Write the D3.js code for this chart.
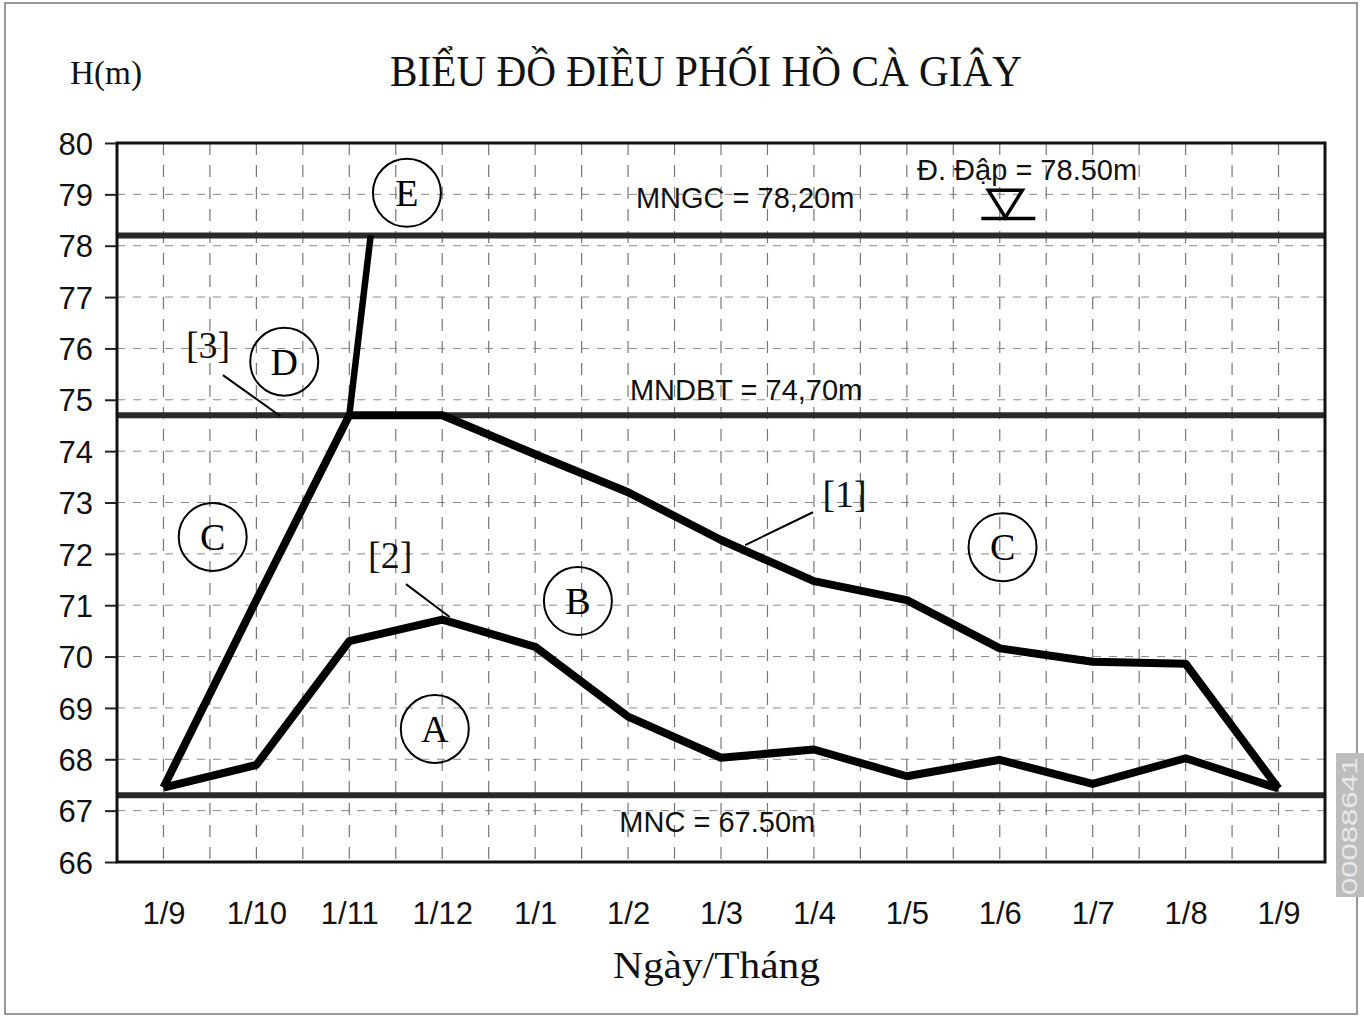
<!DOCTYPE html>
<html>
<head>
<meta charset="utf-8">
<script src="https://cdn.jsdelivr.net/npm/d3@7"></script>
<style>
  html, body { margin: 0; padding: 0; background: #fff; }
  svg { display: block; }
</style>
</head>
<body>
<svg id="chart" width="1364" height="1023"></svg>
<script>
// ---- data ----
const months = ["1/9","1/10","1/11","1/12","1/1","1/2","1/3","1/4","1/5","1/6","1/7","1/8","1/9"];
const yTicks = [66,67,68,69,70,71,72,73,74,75,76,77,78,79,80];
// upper dispatch curve (C / [1])
const upperLine = [67.45, 71.1, 74.7, 74.7, 73.94, 73.2, 72.27, 71.47, 71.1, 70.16, 69.9, 69.86, 67.43];
// lower dispatch curve ([2])
const lowerLine = [67.45, 67.89, 70.3, 70.72, 70.19, 68.83, 68.03, 68.19, 67.67, 67.99, 67.52, 68.02, 67.43];
// steep line from MNDBT to MNGC (E / [3]) : month index, level
const steepIdx = [2, 2.23];
const steepLevel = [74.7, 78.2];
// reference levels (drawn positions)
const refLevels = [78.2, 74.7, 67.3];
const refLabels = ["MNGC = 78,20m", "MNDBT = 74,70m", "MNC = 67.50m"];
const damLevel = 78.5;
const damLabel = "Đ. Đập = 78.50m";
// zone labels: letter, month index, level
const zoneLetters = ["E","D","C","B","A","C"];
const zoneIdx = [2.62, 1.30, 0.53, 4.46, 2.92, 9.03];
const zoneLevel = [79.03, 75.74, 72.33, 71.08, 68.59, 72.13];
const curveTags = ["[3]","[2]","[1]"];

// ---- layout ----
const svg = d3.select("#chart");
const L = 117, R = 1325, T = 143, B = 862;
const x = d3.scaleLinear().domain([-0.5, 12.5]).range([L, R]);
const y = d3.scaleLinear().domain([66, 80]).range([B, T]);

// outer frame
svg.append("rect").attr("x", 5).attr("y", 3).attr("width", 1352).attr("height", 1011)
  .attr("fill", "none").attr("stroke", "#777").attr("stroke-width", 1.5);

// grid
const gridG = svg.append("g");
gridG.selectAll("line.h").data(yTicks.filter(v => v > 66 && v < 80)).enter().append("line")
  .attr("x1", L).attr("x2", R).attr("y1", d => y(d)).attr("y2", d => y(d))
  .attr("stroke", "#8a8a8a").attr("stroke-width", 1).attr("stroke-dasharray", "8,8");
const halfSteps = d3.range(0, 12.01, 0.5);
gridG.selectAll("line.v").data(halfSteps).enter().append("line")
  .attr("x1", d => x(d)).attr("x2", d => x(d)).attr("y1", T).attr("y2", B)
  .attr("stroke", "#777").attr("stroke-width", 1.2).attr("stroke-dasharray", "12,10");

// y axis
const yAxis = d3.axisLeft(y).tickValues(yTicks).tickSize(12).tickPadding(12).tickFormat(d3.format("d"));
const ya = svg.append("g").attr("transform", `translate(${L},0)`).call(yAxis);
ya.select(".domain").remove();
ya.selectAll(".tick line").attr("stroke", "#222").attr("stroke-width", 2);
ya.selectAll(".tick text").attr("font-family", "Liberation Sans, Arial, sans-serif")
  .attr("font-size", 31).attr("fill", "#111").attr("dy", "0.36em");

// x axis labels
const xAxis = d3.axisBottom(x).tickValues(d3.range(0, 13)).tickSize(0).tickPadding(40)
  .tickFormat(i => months[i]);
const xa = svg.append("g").attr("transform", `translate(0,${B})`).call(xAxis);
xa.select(".domain").remove();
xa.selectAll(".tick text").attr("font-family", "Liberation Sans, Arial, sans-serif")
  .attr("font-size", 31).attr("fill", "#111");

// reference lines
svg.selectAll("line.ref").data(refLevels).enter().append("line")
  .attr("x1", L).attr("x2", R).attr("y1", d => y(d)).attr("y2", d => y(d))
  .attr("stroke", "#2a2a2a").attr("stroke-width", 6);

// plot border
svg.append("rect").attr("x", L).attr("y", T).attr("width", R - L).attr("height", B - T)
  .attr("fill", "none").attr("stroke", "#111").attr("stroke-width", 3);

// curves
const line = d3.line().x((d, i) => x(i)).y(d => y(d));
svg.append("path").datum(upperLine).attr("d", line)
  .attr("fill", "none").attr("stroke", "#000").attr("stroke-width", 8).attr("stroke-linejoin", "round");
svg.append("path").datum(lowerLine).attr("d", line)
  .attr("fill", "none").attr("stroke", "#000").attr("stroke-width", 8).attr("stroke-linejoin", "round");
const steepPts = steepIdx.map((v, i) => [v, steepLevel[i]]);
svg.append("path").datum(steepPts).attr("d", d3.line().x(d => x(d[0])).y(d => y(d[1])))
  .attr("fill", "none").attr("stroke", "#000").attr("stroke-width", 6.5).attr("stroke-linecap", "butt");

// reference labels
const refLabelIdx = [6.26, 6.27, 5.96];
const refLabelLevel = [78.73, 75.0, 66.58];
svg.selectAll("text.ref").data(refLabels).enter().append("text")
  .attr("x", (d, i) => x(refLabelIdx[i])).attr("y", (d, i) => y(refLabelLevel[i]))
  .attr("text-anchor", "middle")
  .attr("font-family", "Liberation Sans, Arial, sans-serif").attr("font-size", 29).attr("fill", "#111")
  .text(d => d);

// dam crest label and symbol
svg.append("text").attr("x", x(8.11)).attr("y", y(damLevel + 0.78))
  .attr("font-family", "Liberation Sans, Arial, sans-serif").attr("font-size", 29).attr("fill", "#111")
  .text(damLabel);
const sx = x(9.06), sTop = y(damLevel + 0.58), sBot = y(damLevel + 0.05);
svg.append("path").attr("d", `M${sx - 17},${sTop} L${sx + 17},${sTop} L${sx},${sBot} Z`)
  .attr("fill", "none").attr("stroke", "#000").attr("stroke-width", 3.5).attr("stroke-linejoin", "miter");
svg.append("line").attr("x1", sx - 24).attr("x2", sx + 30).attr("y1", sBot + 1).attr("y2", sBot + 1)
  .attr("stroke", "#000").attr("stroke-width", 3.5);

// zone circles
const zg = svg.selectAll("g.zone").data(zoneLetters).enter().append("g")
  .attr("transform", (d, i) => `translate(${x(zoneIdx[i])},${y(zoneLevel[i])})`);
zg.append("circle").attr("r", 34).attr("fill", "none").attr("stroke", "#000").attr("stroke-width", 2);
zg.append("text").attr("text-anchor", "middle").attr("dy", "0.35em")
  .attr("font-family", "Liberation Serif, Times New Roman, serif").attr("font-size", 38).attr("fill", "#000")
  .text(d => d);

// curve tags with leaders
const tagIdx = [0.48, 2.44, 7.33];
const tagLevel = [76.07, 71.98, 73.18];
const leadFrom = [[0.64, 75.48], [2.61, 71.41], [6.99, 72.81]];
const leadTo = [[1.26, 74.68], [3.08, 70.77], [6.26, 72.17]];
svg.selectAll("text.tag").data(curveTags).enter().append("text")
  .attr("x", (d, i) => x(tagIdx[i])).attr("y", (d, i) => y(tagLevel[i]))
  .attr("text-anchor", "middle").attr("dy", "0.35em")
  .attr("font-family", "Liberation Serif, Times New Roman, serif").attr("font-size", 38).attr("fill", "#111")
  .text(d => d);
svg.selectAll("line.lead").data(curveTags).enter().append("line")
  .attr("x1", (d, i) => x(leadFrom[i][0])).attr("y1", (d, i) => y(leadFrom[i][1]))
  .attr("x2", (d, i) => x(leadTo[i][0])).attr("y2", (d, i) => y(leadTo[i][1]))
  .attr("stroke", "#000").attr("stroke-width", 2);

// titles
svg.append("text").attr("x", 390).attr("y", 86).attr("textLength", 632).attr("lengthAdjust", "spacingAndGlyphs")
  .attr("font-family", "Liberation Serif, Times New Roman, serif").attr("font-size", 45).attr("fill", "#111")
  .text("BIỂU ĐỒ ĐIỀU PHỐI HỒ CÀ GIÂY");
svg.append("text").attr("x", 70).attr("y", 84).attr("textLength", 72).attr("lengthAdjust", "spacingAndGlyphs")
  .attr("font-family", "Liberation Serif, Times New Roman, serif").attr("font-size", 34).attr("fill", "#111")
  .text("H(m)");
svg.append("text").attr("x", 613).attr("y", 978).attr("textLength", 207).attr("lengthAdjust", "spacingAndGlyphs")
  .attr("font-family", "Liberation Serif, Times New Roman, serif").attr("font-size", 38).attr("fill", "#111")
  .text("Ngày/Tháng");

// scan stamp at right edge
svg.append("rect").attr("x", 1336).attr("y", 753).attr("width", 28).attr("height", 144).attr("fill", "#bdbdbd");
svg.append("text").attr("transform", "translate(1357,895) rotate(-90)")
  .attr("font-family", "Liberation Sans, Arial, sans-serif").attr("font-size", 22).attr("fill", "#e8e8e8")
  .attr("textLength", 138).attr("lengthAdjust", "spacingAndGlyphs")
  .text("00088641");
</script>
</body>
</html>
